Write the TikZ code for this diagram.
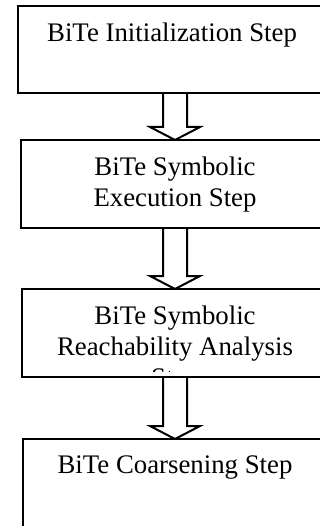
\documentclass[tikz,border=0pt]{standalone}
\usepackage{fontspec}
\setmainfont{Liberation Serif}

\begin{document}
\begin{tikzpicture}[x=1pt,y=-1pt,line width=2pt,
	stepbox/.style={draw,rectangle,outer sep=0pt,anchor=north,minimum width=#1},
	steptext/.style={font=\fontsize{26.8}{31}\selectfont,align=center,inner sep=0pt,anchor=north},
	hollow/.style={draw,line join=miter}]
	\useasboundingbox (0,0) rectangle (320,526);
	\clip (0,0) rectangle (320,526);
	% boxes, right side runs off the page
	\node[stepbox=314pt,minimum height=87pt] (init) at (175,6) {};
	\node[stepbox=308pt,minimum height=88pt] (symexec) at (175,140) {};
	\node[stepbox=306pt,minimum height=88pt] (reach) at (175,289) {};
	\node[stepbox=304pt,minimum height=110pt] (coarsen) at (175,439) {};
	% texts
	\node[steptext] (initText) at ([xshift=-3pt,yshift=-16pt]init.north) {BiTe Initialization Step};
	\node[steptext] (symexecText) at ([yshift=-16pt]symexec.north) {BiTe Symbolic\\Execution Step};
	\begin{scope}
		\clip ([yshift=6pt]reach.south west) rectangle (reach.north east);
		\node[steptext] (reachText) at ([yshift=-16pt]reach.north) {BiTe Symbolic\\Reachability Analysis\\Step};
	\end{scope}
	\node[steptext] (coarsenText) at ([yshift=-16pt]coarsen.north) {BiTe Coarsening Step};
	% hollow arrows between the steps
	\foreach \a/\b in {init/symexec,symexec/reach,reach/coarsen}{
		\draw[hollow] ([xshift=-12pt]\a.south) -- ([xshift=-12pt,yshift=13pt]\b.north)
			-- ([xshift=-25pt,yshift=13pt]\b.north) -- (\b.north)
			-- ([xshift=25pt,yshift=13pt]\b.north) -- ([xshift=12pt,yshift=13pt]\b.north)
			-- ([xshift=12pt]\a.south);
	}
\end{tikzpicture}
\end{document}
